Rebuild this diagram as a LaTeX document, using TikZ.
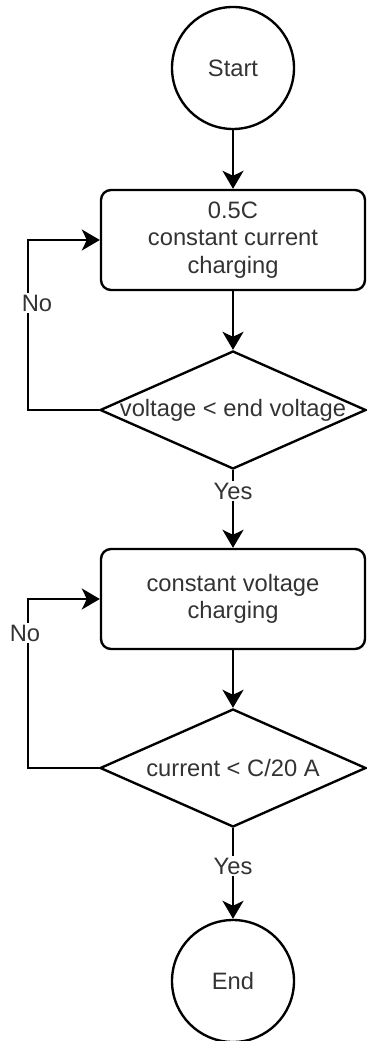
\documentclass[tikz,border=0pt]{standalone}
\usepackage{fontspec}
\setmainfont{Liberation Sans}
\usetikzlibrary{arrows.meta,shapes.geometric}
\definecolor{fcgray}{HTML}{333333}

\begin{document}
\begin{tikzpicture}[line join=miter,
  >={Stealth[length=0.36cm,width=0.42cm,inset=0.1cm]},
  every node/.style={inner sep=2pt, text=fcgray,
    font=\fontsize{13.5}{15.6}\selectfont},
  terminal/.style={draw=black, circle, line width=1.35pt,
    minimum size=2.44cm},
  process/.style={draw=black, rectangle, rounded corners=0.2cm,
    line width=1.35pt, minimum width=5.28cm, minimum height=2cm,
    align=center},
  decision/.style={draw=black, diamond, aspect=2.25, line width=1.35pt,
    minimum width=5.32cm, minimum height=2.36cm, inner sep=0pt},
  flow/.style={->, line width=1.35pt},
  edgelabel/.style={fill=white, inner sep=1pt}]
  \path[use as bounding box] (0,0) rectangle (7.32,-20.82);
  % x = 0.02*px, y = -0.02*px of the 366x1041 layout.
  \node[terminal] (start) at (4.66,-1.36) {Start};
  \node[process] (cc) at (4.66,-4.8)
    {0.5C\\constant current\\charging};
  \node[decision] (dv) at (4.66,-8.2)
    {\makebox[0pt]{voltage < end voltage}};
  \node[process] (cv) at (4.66,-11.98)
    {constant voltage\\charging};
  \node[decision] (dc) at (4.66,-15.36)
    {\makebox[0pt]{current < C/20 A}};
  \node[terminal] (stop) at (4.66,-19.62) {End};
  \draw[flow] (start) -- (cc);
  \draw[flow] (cc) -- (dv);
  \draw[flow] (dv) -- node[edgelabel,pos=0.27] {Yes} (cv);
  \draw[flow] (cv) -- (dc);
  \draw[flow] (dc) -- node[edgelabel,pos=0.42] {Yes} (stop);
  % loops back on the left side
  \coordinate (loopa) at (0.56,-6.06);
  \coordinate (loopb) at (0.56,-12.66);
  \draw[flow] (dv.west) -| (loopa) node[edgelabel,xshift=0.18cm] {No}
    |- (cc.west);
  \draw[flow] (dc.west) -| (loopb) node[edgelabel,xshift=-0.06cm] {No}
    |- (cv.west);
\end{tikzpicture}
\end{document}
